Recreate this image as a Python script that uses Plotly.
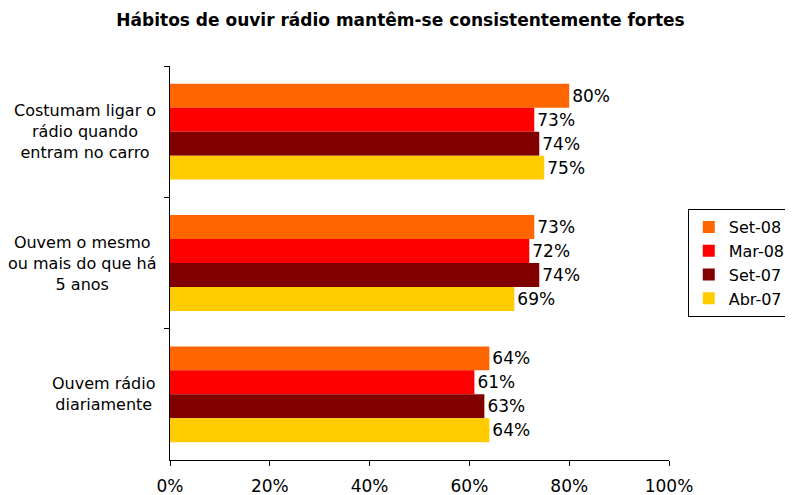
import plotly.graph_objects as go

# categories, top to bottom as in the chart
categories = [
    "Costumam ligar o<br>rádio quando<br>entram no carro",
    "Ouvem o mesmo<br>ou mais do que há<br>5 anos",
    "Ouvem rádio<br>diariamente",
]
series_names = ["Set-08", "Mar-08", "Set-07", "Abr-07"]
set08 = [0.80, 0.73, 0.64]
mar08 = [0.73, 0.72, 0.61]
set07 = [0.74, 0.74, 0.63]
abr07 = [0.75, 0.69, 0.64]
colors = ["#FF6600", "#FF0000", "#800000", "#FFCC00"]

font = "DejaVu Sans, Verdana, sans-serif"

fig = go.Figure()
for name, vals, col in zip(series_names, [set08, mar08, set07, abr07], colors):
    fig.add_trace(go.Bar(
        x=vals, y=categories, name=name, orientation="h",
        marker=dict(color=col, line=dict(width=0)),
        text=[f"{v:.0%}" for v in vals], textposition="outside",
        textfont=dict(size=17, color="black", family=font),
        cliponaxis=False,
    ))

# category labels: right-aligned block, lines centered
for c in categories:
    fig.add_annotation(
        x=-0.024, xref="paper", y=c, yref="y", text=c,
        xanchor="right", yanchor="middle", align="center",
        showarrow=False, font=dict(size=16, color="black", family=font),
    )

# the page body adds an 8px margin, so the figure is 8px smaller each way
fig.update_layout(
    width=785, height=487,
    paper_bgcolor="white", plot_bgcolor="white",
    margin=dict(l=162, r=124, t=58, b=35, autoexpand=False),
    barmode="group", bargap=0.27, bargroupgap=0,
    font=dict(family=font, size=17, color="black"),
    title=dict(text="<b>Hábitos de ouvir rádio mantêm-se consistentemente fortes</b>",
               x=0.5, xanchor="center", y=0.975, yanchor="middle",
               font=dict(size=17, family=font, color="black")),
    legend=dict(x=1.244, xanchor="right", y=0.5, yanchor="middle",
                bordercolor="black", borderwidth=1, itemwidth=30,
                font=dict(size=16, family=font, color="black"),
                tracegroupgap=0),
    showlegend=True,
)
fig.update_xaxes(range=[0, 1], dtick=0.2, tickformat=".0%",
                 showgrid=False, zeroline=False,
                 showline=True, linecolor="black", linewidth=1,
                 ticks="outside", ticklen=5, tickcolor="black",
                 ticklabelstandoff=6,
                 tickfont=dict(size=17, family=font, color="black"))
fig.update_yaxes(autorange="reversed", showticklabels=False,
                 showgrid=False, zeroline=False,
                 showline=True, linecolor="black", linewidth=1,
                 ticks="outside", ticklen=5, tickcolor="black",
                 tickson="boundaries")

fig.write_html("out.html")
